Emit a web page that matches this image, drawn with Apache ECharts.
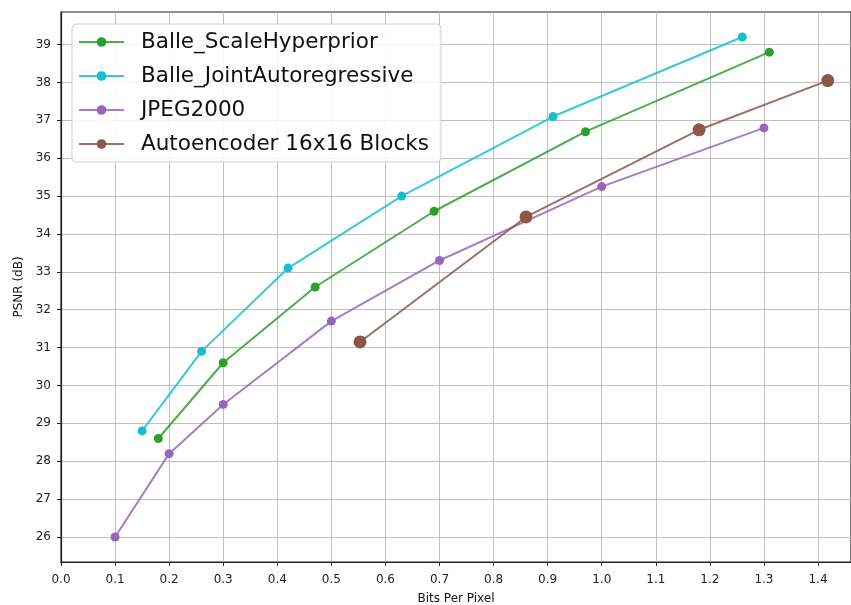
<!DOCTYPE html>
<html>
<head>
<meta charset="utf-8">
<script src="https://cdn.jsdelivr.net/npm/echarts@6/dist/echarts.min.js"></script>
<style>
  html, body { margin: 0; padding: 0; background: #fff; }
  #chart { width: 851px; height: 605px; }
</style>
</head>
<body>
<div id="chart"></div>
<script>
// bits per pixel / PSNR pairs
var hyperBpp = [0.18, 0.30, 0.47, 0.69, 0.97, 1.31];
var hyperPsnr = [28.6, 30.6, 32.6, 34.6, 36.7, 38.8];
var jointBpp = [0.15, 0.26, 0.42, 0.63, 0.91, 1.26];
var jointPsnr = [28.8, 30.9, 33.1, 35.0, 37.1, 39.2];
var jpegBpp = [0.1, 0.2, 0.3, 0.5, 0.7, 1.0, 1.3];
var jpegPsnr = [26.0, 28.2, 29.5, 31.7, 33.3, 35.25, 36.8];
var aeBpp = [0.553, 0.86, 1.18, 1.418];
var aePsnr = [31.15, 34.45, 36.75, 38.05];

var names = ['Balle_ScaleHyperprior', 'Balle_JointAutoregressive', 'JPEG2000', 'Autoencoder 16x16 Blocks'];
var colors = ['#2ca02c', '#17becf', '#9467bd', '#8c564b'];
var yTicks = [26, 27, 28, 29, 30, 31, 32, 33, 34, 35, 36, 37, 38, 39];

function pairs(xs, ys) {
    var out = [];
    for (var i = 0; i < xs.length; i++) {
        out.push([xs[i], ys[i]]);
    }
    return out;
}

function lineSeries(idx, xs, ys, size) {
    return {
        name: names[idx],
        type: 'line',
        data: pairs(xs, ys),
        symbol: 'circle',
        symbolSize: size,
        showSymbol: true,
        color: colors[idx],
        lineStyle: { width: 2, color: colors[idx], opacity: 0.85 },
        itemStyle: { color: colors[idx] },
        emphasis: { disabled: true },
        animation: false
    };
}

var font = 'DejaVu Sans';
var chart = echarts.init(document.getElementById('chart'));
var option = {
    backgroundColor: '#fff',
    animation: false,
    grid: {
        left: 61, top: 12, right: 0, bottom: 43,
        outerBoundsMode: 'none', containLabel: false,
        show: true, borderColor: '#222', borderWidth: 1.2, backgroundColor: 'transparent'
    },
    legend: {
        left: 72, top: 24,
        orient: 'vertical',
        itemWidth: 45, itemHeight: 12,
        itemGap: 12,
        padding: [7, 12, 7, 6],
        backgroundColor: 'rgba(255,255,255,0.85)',
        borderColor: '#d0d0d0', borderWidth: 1, borderRadius: 4,
        textStyle: { fontFamily: font, fontSize: 21.5, color: '#111', padding: [0, 0, 0, 12] },
        data: names
    },
    xAxis: {
        type: 'value',
        min: 0, max: 1.461, interval: 0.1,
        name: 'Bits Per Pixel', nameLocation: 'middle', nameGap: 31,
        nameTextStyle: { fontFamily: font, fontSize: 12, color: '#111' },
        axisLine: { show: true, onZero: false, lineStyle: { color: '#222', width: 1.2 } },
        axisTick: { show: true, length: 4, lineStyle: { color: '#222' } },
        axisLabel: {
            fontFamily: font, fontSize: 12, color: '#222', margin: 12,
            showMaxLabel: false,
            formatter: function (v) { return v.toFixed(1); }
        },
        splitLine: { show: true, lineStyle: { color: '#c0c0c0', width: 1 } }
    },
    yAxis: {
        type: 'value',
        min: 25.34, max: 39.86,
        name: 'PSNR (dB)', nameLocation: 'middle', nameGap: 36,
        nameTextStyle: { fontFamily: font, fontSize: 12, color: '#111' },
        axisLine: { show: true, onZero: false, lineStyle: { color: '#222', width: 1.2 } },
        axisTick: { show: true, length: 4, customValues: yTicks, lineStyle: { color: '#222' } },
        axisLabel: {
            fontFamily: font, fontSize: 12, color: '#222', margin: 10,
            customValues: yTicks
        },
        splitLine: { show: true, lineStyle: { color: '#c0c0c0', width: 1 } }
    },
    series: [
        lineSeries(0, hyperBpp, hyperPsnr, 9),
        lineSeries(1, jointBpp, jointPsnr, 9),
        lineSeries(2, jpegBpp, jpegPsnr, 9),
        lineSeries(3, aeBpp, aePsnr, 13)
    ]
};
chart.setOption(option);
</script>
</body>
</html>
